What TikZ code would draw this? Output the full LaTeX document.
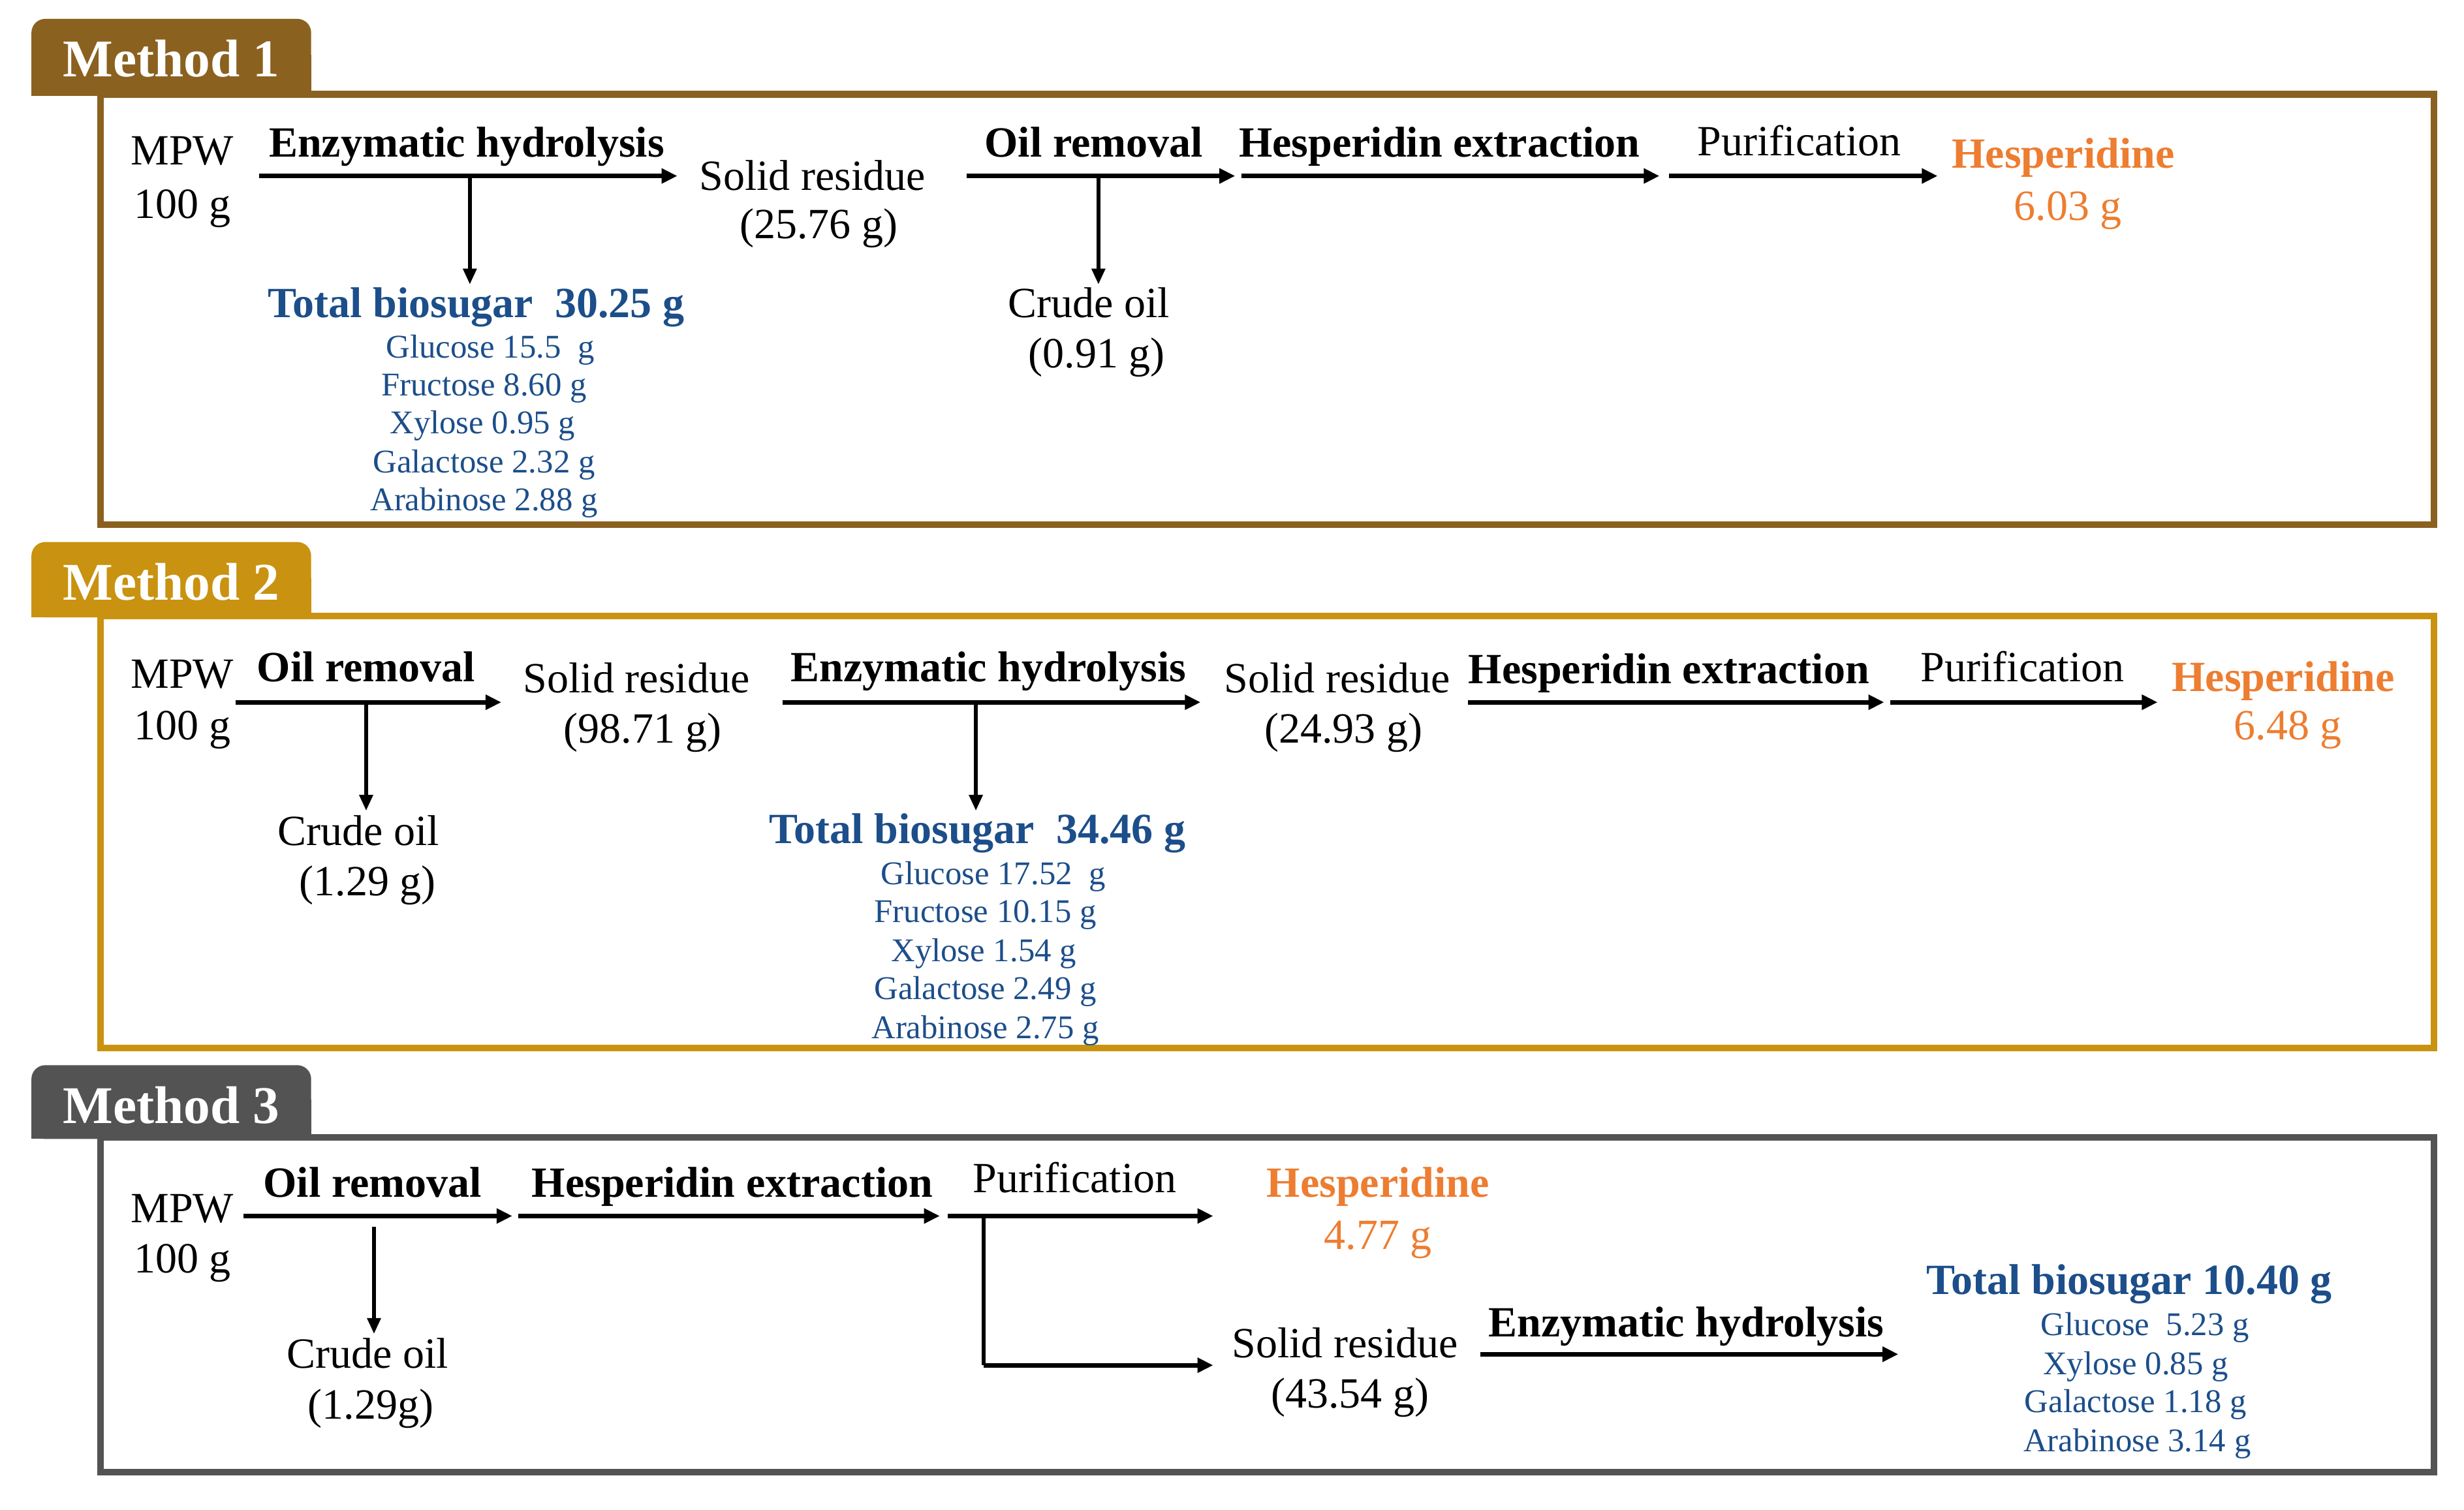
\documentclass[tikz,border=0pt]{standalone}
\usepackage{fontspec}
\setmainfont{Liberation Serif}
\usetikzlibrary{arrows.meta}
\definecolor{mone}{RGB}{139,97,32}
\definecolor{mtwo}{RGB}{201,146,16}
\definecolor{mthree}{RGB}{83,83,83}
\definecolor{sugarblue}{RGB}{28,78,138}
\definecolor{hesorange}{RGB}{237,125,49}
\tikzset{
  txt/.style={inner sep=0pt, anchor=base, font=\fontsize{19.5}{22}\selectfont},
  btxt/.style={inner sep=0pt, anchor=base, font=\fontsize{19.5}{22}\selectfont\bfseries},
  sug/.style={inner sep=0pt, anchor=base, text=sugarblue, font=\fontsize{15}{17}\selectfont},
  tot/.style={btxt, text=sugarblue},
  hes/.style={btxt, text=hesorange},
  hesv/.style={txt, text=hesorange},
  flow/.style={line width=0.075cm, -{Triangle[length=0.25cm,width=0.23cm]}},
  side/.style={line width=0.055cm, -{Triangle[length=0.25cm,width=0.21cm]}},
  thinline/.style={line width=0.055cm},
  frame/.style={line width=0.105cm},
  tabtxt/.style={inner sep=0pt, anchor=base, text=white, font=\fontsize{24}{27}\selectfont\bfseries},
}
\begin{document}
\begin{tikzpicture}[x=0.025cm, y=-0.025cm]
\useasboundingbox (0,0) rectangle (1568,961);
\fill[white] (0,0) rectangle (1568,961);

% ---------------- Method 1 ----------------
\fill[mone, rounded corners=0.22cm] (20,12) rectangle (198,61);
\fill[mone] (20,35) rectangle (198,61);
\node[tabtxt] (t1) at (109,49) {Method 1};
\draw[frame, mone] (64,60) rectangle (1549,334);

\node[txt] (m1mpw) at (116,105) {MPW};
\node[txt] (m1g) at (116,139) {100 g};
\coordinate (m1a1s) at (165,112);
\coordinate (m1a1e) at (431,112);
\draw[flow] (m1a1s) -- (m1a1e);
\node[btxt] (m1enz) at (297,100) {Enzymatic hydrolysis};
\coordinate (m1d1s) at (299,112);
\coordinate (m1d1e) at (299,181);
\draw[side] (m1d1s) -- (m1d1e);
\node[tot] (m1tot) at (303,202) {Total biosugar\ \ 30.25 g};
\node[sug] (m1s1) at (312,228) {Glucose 15.5\ \ g};
\node[sug] (m1s2) at (308,252) {Fructose 8.60 g};
\node[sug] (m1s3) at (307,276) {Xylose 0.95 g};
\node[sug] (m1s4) at (308,301) {Galactose 2.32 g};
\node[sug] (m1s5) at (308,325) {Arabinose 2.88 g};
\node[txt] (m1sr) at (517,121) {Solid residue};
\node[txt] (m1srg) at (521,152) {(25.76 g)};
\coordinate (m1a2s) at (615,112);
\coordinate (m1a2e) at (786,112);
\draw[flow] (m1a2s) -- (m1a2e);
\node[btxt] (m1oil) at (696,100) {Oil removal};
\coordinate (m1d2s) at (699,112);
\coordinate (m1d2e) at (699,181);
\draw[side] (m1d2s) -- (m1d2e);
\node[txt] (m1co) at (693,202) {Crude oil};
\node[txt] (m1cog) at (698,234) {(0.91 g)};
\coordinate (m1a3s) at (790,112);
\coordinate (m1a3e) at (1056,112);
\draw[flow] (m1a3s) -- (m1a3e);
\node[btxt] (m1hex) at (916,100) {Hesperidin extraction};
\coordinate (m1a4s) at (1062,112);
\coordinate (m1a4e) at (1233,112);
\draw[flow] (m1a4s) -- (m1a4e);
\node[txt] (m1pur) at (1145,99) {Purification};
\node[hes] (m1hes) at (1313,107) {Hesperidine};
\node[hesv] (m1hesg) at (1316,140) {6.03 g};

% ---------------- Method 2 ----------------
\fill[mtwo, rounded corners=0.22cm] (20,345) rectangle (198,393);
\fill[mtwo] (20,368) rectangle (198,393);
\node[tabtxt] (t2) at (109,382) {Method 2};
\draw[frame, mtwo] (64,392) rectangle (1549,667);

\node[txt] (m2mpw) at (116,438) {MPW};
\node[txt] (m2g) at (116,471) {100 g};
\coordinate (m2a1s) at (150,447);
\coordinate (m2a1e) at (319,447);
\draw[flow] (m2a1s) -- (m2a1e);
\node[btxt] (m2oil) at (233,434) {Oil removal};
\coordinate (m2d1s) at (233,447);
\coordinate (m2d1e) at (233,516);
\draw[side] (m2d1s) -- (m2d1e);
\node[txt] (m2co) at (228,538) {Crude oil};
\node[txt] (m2cog) at (234,570) {(1.29 g)};
\node[txt] (m2sr) at (405,441) {Solid residue};
\node[txt] (m2srg) at (409,473) {(98.71 g)};
\coordinate (m2a2s) at (498,447);
\coordinate (m2a2e) at (764,447);
\draw[flow] (m2a2s) -- (m2a2e);
\node[btxt] (m2enz) at (629,434) {Enzymatic hydrolysis};
\coordinate (m2d2s) at (621,447);
\coordinate (m2d2e) at (621,516);
\draw[side] (m2d2s) -- (m2d2e);
\node[tot] (m2tot) at (622,537) {Total biosugar\ \ 34.46 g};
\node[sug] (m2s1) at (632,563) {Glucose 17.52\ \ g};
\node[sug] (m2s2) at (627,587) {Fructose 10.15 g};
\node[sug] (m2s3) at (626,612) {Xylose 1.54 g};
\node[sug] (m2s4) at (627,636) {Galactose 2.49 g};
\node[sug] (m2s5) at (627,661) {Arabinose 2.75 g};
\node[txt] (m2sr2) at (851,441) {Solid residue};
\node[txt] (m2srg2) at (855,473) {(24.93 g)};
\coordinate (m2a3s) at (934,447);
\coordinate (m2a3e) at (1199,447);
\draw[flow] (m2a3s) -- (m2a3e);
\node[btxt] (m2hex) at (1062,435) {Hesperidin extraction};
\coordinate (m2a4s) at (1203,447);
\coordinate (m2a4e) at (1373,447);
\draw[flow] (m2a4s) -- (m2a4e);
\node[txt] (m2pur) at (1287,434) {Purification};
\node[hes] (m2hes) at (1453,440) {Hesperidine};
\node[hesv] (m2hesg) at (1456,471) {6.48 g};

% ---------------- Method 3 ----------------
\fill[mthree, rounded corners=0.22cm] (20,678) rectangle (198,725);
\fill[mthree] (20,700) rectangle (198,725);
\node[tabtxt] (t3) at (109,715) {Method 3};
\draw[frame, mthree] (64,724) rectangle (1549,937);

\node[txt] (m3mpw) at (116,778) {MPW};
\node[txt] (m3g) at (116,810) {100 g};
\coordinate (m3a1s) at (155,774);
\coordinate (m3a1e) at (326,774);
\draw[flow] (m3a1s) -- (m3a1e);
\node[btxt] (m3oil) at (237,762) {Oil removal};
\coordinate (m3d1s) at (238,781);
\coordinate (m3d1e) at (238,849);
\draw[side] (m3d1s) -- (m3d1e);
\node[txt] (m3co) at (234,871) {Crude oil};
\node[txt] (m3cog) at (236,903) {(1.29g)};
\coordinate (m3a2s) at (330,774);
\coordinate (m3a2e) at (598,774);
\draw[flow] (m3a2s) -- (m3a2e);
\node[btxt] (m3hex) at (466,762) {Hesperidin extraction};
\coordinate (m3a3s) at (603,774);
\coordinate (m3a3e) at (772,774);
\draw[flow] (m3a3s) -- (m3a3e);
\node[txt] (m3pur) at (684,759) {Purification};
\coordinate (m3bs) at (626,774);
\coordinate (m3bc) at (626,869);
\coordinate (m3be) at (772,869);
\draw[thinline] (m3bs) -- (m3bc);
\draw[flow] (m3bc) -- (m3be);
\node[hes] (m3hes) at (877,762) {Hesperidine};
\node[hesv] (m3hesg) at (877,795) {4.77 g};
\node[txt] (m3sr) at (856,864) {Solid residue};
\node[txt] (m3srg) at (859,896) {(43.54 g)};
\coordinate (m3a4s) at (942,862);
\coordinate (m3a4e) at (1208,862);
\draw[flow] (m3a4s) -- (m3a4e);
\node[btxt] (m3enz) at (1073,851) {Enzymatic hydrolysis};
\node[tot] (m3tot) at (1355,824) {Total biosugar 10.40 g};
\node[sug] (m3s1) at (1365,850) {Glucose\ \ 5.23 g};
\node[sug] (m3s2) at (1359,875) {Xylose 0.85 g};
\node[sug] (m3s3) at (1359,899) {Galactose 1.18 g};
\node[sug] (m3s4) at (1360,924) {Arabinose 3.14 g};
\end{tikzpicture}
\end{document}
